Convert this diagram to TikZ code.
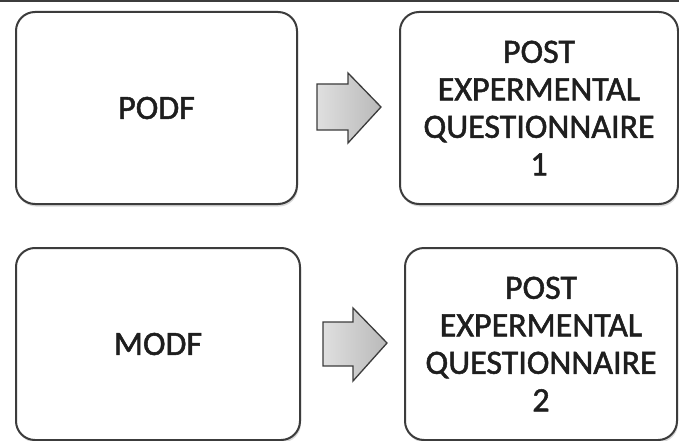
\documentclass[tikz,border=0pt]{standalone}
\usepackage{fontspec}
\setmainfont{Carlito}[FakeBold=1.5]
\usetikzlibrary{shadows}
\definecolor{boxline}{HTML}{3C3C3C}
\definecolor{txt}{HTML}{1E1E1E}
\tikzset{
  stagebox/.style={draw=boxline, line width=2pt, rounded corners=19pt, fill=white,
    drop shadow={opacity=0.3, shadow xshift=1pt, shadow yshift=-2.5pt},
    minimum height=192pt, align=center, text=txt, inner sep=0pt,
    font=\fontsize{34}{37.5}\selectfont},
  bigarrow/.style={draw=boxline, line width=1.3pt, line join=miter,
    left color=gray!25, right color=gray!55},
}
\begin{document}
\begin{tikzpicture}[x=1pt,y=-1pt]
\useasboundingbox (0,0) rectangle (679,441);
\fill[white] (0,0) rectangle (679,441);
\draw[boxline, line width=2pt] (0,1) -- (679,1);
\node[stagebox, minimum width=281pt] (podf) at (156.5,108) {PODF};
\node[stagebox, minimum width=278pt] (q1) at (539,108) {POST\\EXPERMENTAL\\QUESTIONNAIRE\\1};
\node[stagebox, minimum width=284pt] (modf) at (158,344) {MODF};
\node[stagebox, minimum width=272pt] (q2) at (541,344) {POST\\EXPERMENTAL\\QUESTIONNAIRE\\2};
% arrows
\draw[bigarrow] (317,84) -- (348,84) -- (348,73) -- (381,107) -- (348,143) -- (348,130) -- (317,130) -- cycle;
\draw[bigarrow] (323,322) -- (353,322) -- (353,308) -- (387,343) -- (353,381) -- (353,366) -- (323,366) -- cycle;
\end{tikzpicture}
\end{document}
